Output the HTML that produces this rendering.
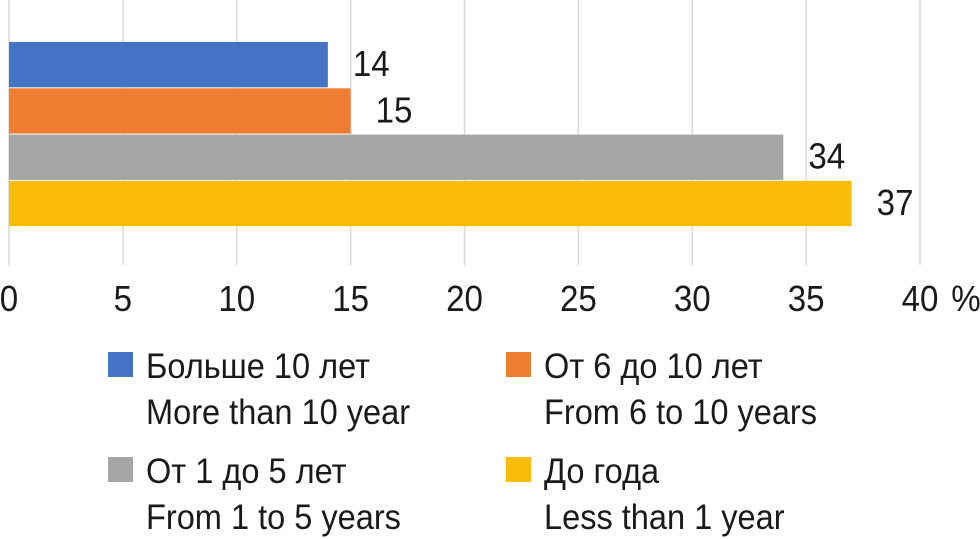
<!DOCTYPE html>
<html><head><meta charset="utf-8"><style>
html,body{margin:0;padding:0;background:#fff;}
svg{display:block;}
text{font-family:"Liberation Sans",sans-serif;fill:#1a1a1a;}
</style></head><body>
<svg id="chart" width="980" height="539" xmlns="http://www.w3.org/2000/svg"></svg>
<script>
const categories = ["Больше 10 лет", "От 6 до 10 лет", "От 1 до 5 лет", "До года"];
const values = [14, 15, 34, 37];
const colors = ["#4472c4", "#ed7d31", "#a5a5a5", "#fbbc09"];
const ticks = [0, 5, 10, 15, 20, 25, 30, 35, 40];
const legendRu = ["Больше 10 лет", "От 6 до 10 лет", "От 1 до 5 лет", "До года"];
const legendEn = ["More than 10 year", "From 6 to 10 years", "From 1 to 5 years", "Less than 1 year"];

const NS = "http://www.w3.org/2000/svg";
const svg = document.getElementById("chart");
const x0 = 9, x1 = 920, xMax = 40;
const xs = v => x0 + (v / xMax) * (x1 - x0);
const barTop = 42, barH = 46.3;
function mk(tag, attrs, txt) {
  const e = document.createElementNS(NS, tag);
  for (const k in attrs) e.setAttribute(k, attrs[k]);
  if (txt !== undefined) e.textContent = txt;
  svg.appendChild(e);
  return e;
}
function txt(x, y, size, s, anchor, sx) {
  return mk("text", {x: 0, y: 0, "font-size": size, "text-anchor": anchor || "start",
    transform: "translate(" + x + "," + y + ") scale(" + (sx || 0.93) + ",1)"}, s);
}
ticks.forEach((t, i) => {
  const g = mk("line", {x1: xs(t), x2: xs(t), y1: 0, y2: 265, stroke: "#d9d9d9", "stroke-width": 1.5});
  
  
  const lb = txt(xs(t), 311, 36, String(t), "middle", 0.92);
  
  
});
const pct = txt(966, 311, 36, "%", "middle", 0.92);


values.forEach((v, i) => {
  const y = barTop + i * barH;
  const r = mk("rect", {x: x0, y: y, width: xs(v) - x0, height: barH - 1, fill: colors[i]});
  
  
  const t = txt(xs(v) + 25, y + 34, 36, String(v), "start", 0.92);
  
  
});
const lx = [108, 506], ly = [352, 457];
legendRu.forEach((s, i) => {
  const cx = lx[i % 2], cy = ly[Math.floor(i / 2)];
  const sq = mk("rect", {x: cx, y: cy, width: 25, height: 25, fill: colors[i]});
  
  
  const t1 = txt(cx + 38, cy + 26, 35, s);
  
  
  const t2 = txt(cx + 38, cy + 72, 35, legendEn[i]);
  
  
});
</script>
</body></html>
